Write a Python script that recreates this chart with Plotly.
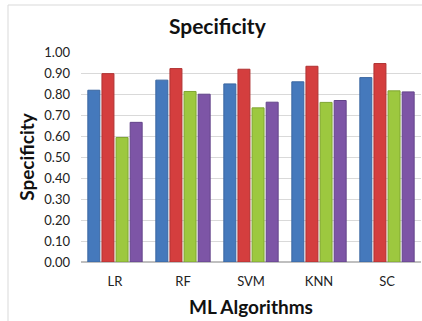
import plotly.graph_objects as go

categories = ["LR", "RF", "SVM", "KNN", "SC"]
series_blue = [0.818, 0.866, 0.848, 0.858, 0.878]
series_red = [0.897, 0.921, 0.918, 0.932, 0.945]
series_green = [0.593, 0.812, 0.734, 0.760, 0.815]
series_purple = [0.665, 0.799, 0.761, 0.769, 0.810]
tick_vals = [i / 10 for i in range(11)]
tick_text = [f"{v:.2f}" for v in tick_vals]

colors = ["#4579BC", "#D43E3E", "#9DC83F", "#7D55A6"]
lines = ["#3A66A0", "#B03232", "#7FA532", "#63448A"]
names = ["S1", "S2", "S3", "S4"]
data = [series_blue, series_red, series_green, series_purple]

fig = go.Figure()
for n, d, c, lc in zip(names, data, colors, lines):
    fig.add_trace(go.Bar(x=categories, y=d, name=n, marker=dict(color=c, line=dict(color=lc, width=1))))

font_family = "Lato, Open Sans, sans-serif"
bx = (8 - 81) / 340
by = (262 - 5) / 210
fig.update_layout(
    width=422, height=321,
    margin=dict(l=81, r=1, t=52, b=59),
    paper_bgcolor="white", plot_bgcolor="white",
    showlegend=False,
    barmode="group", bargap=0.17, bargroupgap=0.15,
    font=dict(family=font_family, color="#222222", size=12),
    title=dict(text="<b>Specificity</b>", x=0.515, xref="container", y=0.918, yref="container",
               xanchor="center", yanchor="middle", font=dict(size=21, color="#111111")),
    xaxis=dict(showline=False, ticks="", tickfont=dict(size=13), ticklabelstandoff=10,
               title=dict(text="<b>ML Algorithms</b>", font=dict(size=19, color="#111111"), standoff=12)),
    yaxis=dict(range=[0, 1.0], tickvals=tick_vals, ticktext=tick_text, showgrid=True,
               gridcolor="#D9D9D9", gridwidth=1, zeroline=True, zerolinecolor="#BFBFBF",
               tickfont=dict(size=13), ticks="", ticklabelstandoff=10,
               title=dict(text="<b>Specificity</b>", font=dict(size=19, color="#111111"), standoff=4)),
    shapes=[
        dict(type="line", xref="paper", yref="paper", x0=bx, x1=1.2, y0=by, y1=by,
             line=dict(color="#D9D9D9", width=1), layer="below"),
        dict(type="line", xref="paper", yref="paper", x0=bx, x1=bx, y0=by, y1=-1.0,
             line=dict(color="#D9D9D9", width=1), layer="below"),
    ],
)

fig.write_html("out.html")
